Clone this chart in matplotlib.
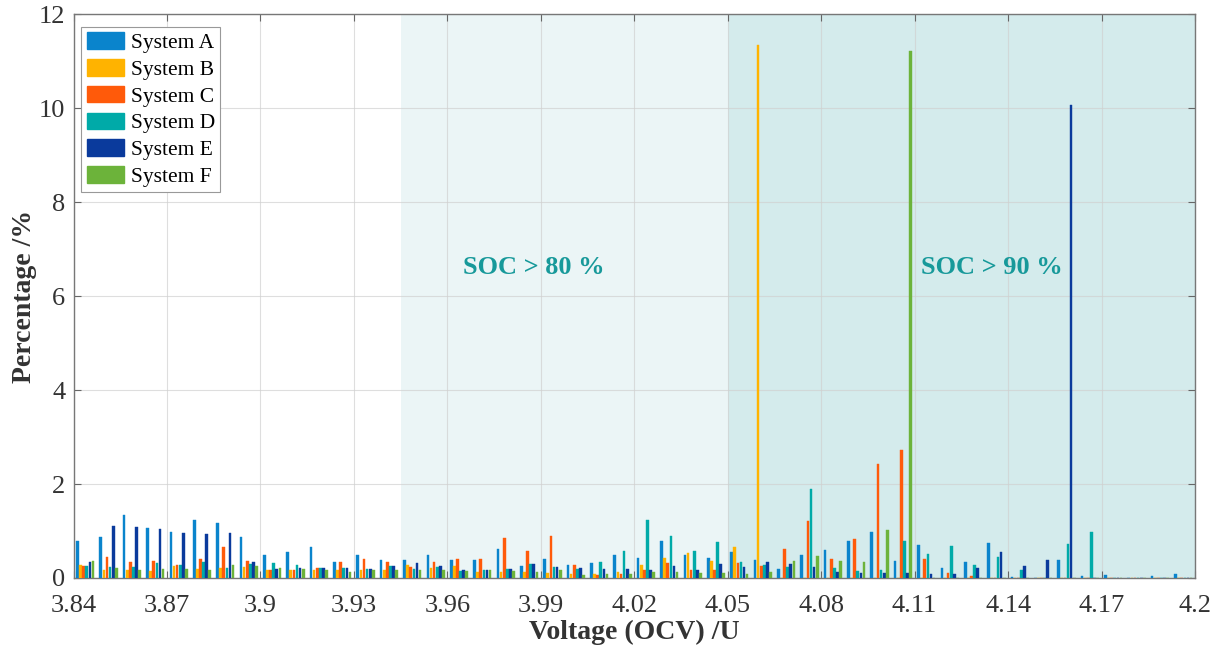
import numpy as np
import matplotlib.pyplot as plt
from matplotlib.patches import Patch

plt.rcParams['font.family'] = ['Liberation Serif', 'DejaVu Serif']

# OCV histogram bins, 0.0075 V wide starting at 3.84 V
v_start = 3.84
bin_width = 0.0075
n_bins = 48

systems = ["System A", "System B", "System C", "System D", "System E", "System F"]
colors = ["#0a84cc", "#ffb300", "#ff5a0a", "#00aaa8", "#0a3a9c", "#6cb33a"]

sys_a = [0.79, 0.87, 1.33, 1.06, 0.98, 1.23, 1.18, 0.87, 0.48, 0.56, 0.65, 0.34,
         0.48, 0.38, 0.38, 0.48, 0.38, 0.39, 0.62, 0.26, 0.40, 0.28, 0.31, 0.48,
         0.43, 0.79, 0.48, 0.43, 0.55, 0.38, 0.20, 0.48, 0.60, 0.79, 0.97, 0.36,
         0.70, 0.22, 0.34, 0.74, 0.02, 0.00, 0.38, 0.04, 0.06, 0.00, 0.04, 0.09]
sys_b = [0.28, 0.18, 0.16, 0.15, 0.26, 0.20, 0.22, 0.23, 0.18, 0.18, 0.16, 0.16,
         0.16, 0.18, 0.28, 0.22, 0.25, 0.12, 0.12, 0.13, 0.10, 0.09, 0.08, 0.12,
         0.28, 0.42, 0.53, 0.36, 0.65, 11.35, 0, 0, 0, 0, 0, 0,
         0, 0, 0, 0, 0, 0, 0, 0, 0, 0, 0, 0]
sys_c = [0.25, 0.45, 0.34, 0.36, 0.27, 0.40, 0.66, 0.37, 0.17, 0.18, 0.21, 0.34,
         0.40, 0.33, 0.24, 0.35, 0.41, 0.40, 0.85, 0.57, 0.89, 0.28, 0.06, 0.08,
         0.17, 0.31, 0.18, 0.17, 0.32, 0.26, 0.61, 1.21, 0.40, 0.84, 2.42, 2.73,
         0.40, 0.11, 0.05, 0, 0, 0, 0, 0, 0, 0, 0, 0]
sys_d = [0.25, 0.23, 0.23, 0.32, 0.27, 0.34, 0.22, 0.30, 0.32, 0.27, 0.21, 0.21,
         0.20, 0.26, 0.20, 0.23, 0.14, 0.18, 0.20, 0.29, 0.24, 0.19, 0.33, 0.57,
         1.23, 0.89, 0.57, 0.77, 0.33, 0.28, 0.24, 1.89, 0.21, 0.15, 0.17, 0.79,
         0.52, 0.68, 0.28, 0.45, 0.18, 0, 0.73, 0.97, 0, 0, 0, 0]
sys_e = [0.35, 1.11, 1.09, 1.04, 0.95, 0.94, 0.96, 0.35, 0.20, 0.21, 0.21, 0.21,
         0.20, 0.26, 0.31, 0.25, 0.18, 0.18, 0.20, 0.29, 0.24, 0.21, 0.20, 0.20,
         0.17, 0.26, 0.18, 0.29, 0.23, 0.33, 0.30, 0.23, 0.13, 0.11, 0.11, 0.10,
         0.09, 0.09, 0.22, 0.55, 0.26, 0.38, 10.06, 0, 0, 0, 0, 0]
sys_f = [0.36, 0.21, 0.18, 0.20, 0.19, 0.17, 0.27, 0.26, 0.22, 0.19, 0.17, 0.13,
         0.16, 0.17, 0.16, 0.16, 0.15, 0.17, 0.14, 0.13, 0.16, 0.07, 0.08, 0.09,
         0.13, 0.12, 0.10, 0.10, 0.09, 0.12, 0.36, 0.47, 0.37, 0.34, 1.03, 11.22,
         0, 0, 0, 0, 0, 0, 0, 0, 0, 0, 0, 0]
series = [sys_a, sys_b, sys_c, sys_d, sys_e, sys_f]

soc80_from = 3.945
soc90_from = 4.05

centres = v_start + bin_width / 2 + bin_width * np.arange(n_bins)
slot = bin_width * 0.8 / len(series)

fig = plt.figure(figsize=(12.23, 6.49), dpi=100)
ax = fig.add_axes([0.0601, 0.1094, 0.9170, 0.8690])

ax.axvspan(soc80_from, soc90_from, color="#ebf5f6", zorder=0, lw=0)
ax.axvspan(soc90_from, 4.2, color="#d4ebec", zorder=0, lw=0)

for i, (vals, col) in enumerate(zip(series, colors)):
    x = centres + (i - 2.5) * slot
    ax.bar(x, vals, width=slot * 0.85, color=col, edgecolor=col, lw=0.3, zorder=3)

ax.text(3.9878, 6.6, "SOC > 80 %", color="#17999a", fontsize=19, fontweight="bold",
        ha="center", va="center", zorder=4)
ax.text(4.1349, 6.6, "SOC > 90 %", color="#17999a", fontsize=19, fontweight="bold",
        ha="center", va="center", zorder=4)

xt = np.round(np.arange(3.84, 4.2001, 0.03), 2)
ax.set_xticks(xt)
ax.set_xticklabels([f"{v:g}" for v in xt])
ax.set_yticks(np.arange(0, 13, 2))
ax.set_xlim(3.84, 4.2)
ax.set_ylim(0, 12)

ax.grid(True, color="#d0d0d0", lw=0.8, alpha=0.7, zorder=1)
ax.set_axisbelow(True)
ax.tick_params(direction="in", length=5, color="#666666", labelcolor="#333333",
               labelsize=19, top=True, right=True)
ax.tick_params(axis="x", pad=12)
ax.tick_params(axis="y", pad=6)
for s in ax.spines.values():
    s.set_color("#777777")
    s.set_linewidth(1.0)

ax.set_xlabel("Voltage (OCV) /U", fontsize=20, fontweight="bold", color="#333333", labelpad=2)
ax.set_ylabel("Percentage /%", fontsize=20, fontweight="bold", color="#333333", labelpad=1)

handles = [Patch(facecolor=c, edgecolor=c) for c in colors]
leg = ax.legend(handles, systems, loc="upper left", bbox_to_anchor=(0.007, 0.977),
                fontsize=15.5, handlelength=1.75, handleheight=0.8, labelspacing=0.28,
                handletextpad=0.3, borderpad=0.25, borderaxespad=0, fancybox=False,
                framealpha=1)
leg.get_frame().set_edgecolor("#999999")
leg.get_frame().set_linewidth(0.8)

fig.savefig("out.png", dpi=100)
